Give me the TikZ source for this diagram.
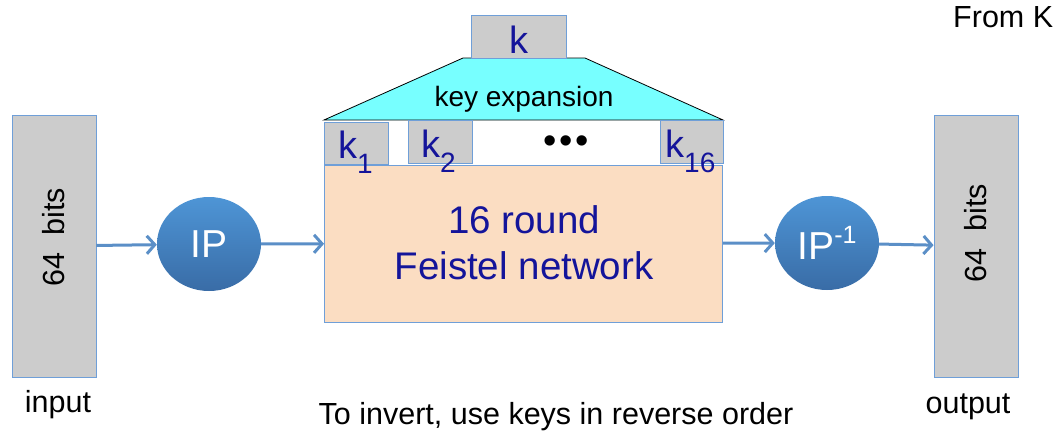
\documentclass[tikz,border=0pt]{standalone}
\usepackage{fontspec}
\setmainfont{Liberation Sans}
\usetikzlibrary{arrows.meta,shapes.geometric}
\definecolor{bx}{HTML}{CCCCCC}
\definecolor{bd}{HTML}{6F9FD8}
\definecolor{peach}{HTML}{FBDDC2}
\definecolor{cy}{HTML}{77FFFF}
\definecolor{arr}{HTML}{5B8FC7}
\definecolor{dblue}{HTML}{14149A}
\definecolor{etop}{HTML}{4E95D6}
\definecolor{ebot}{HTML}{396CA6}
\newcommand{\fs}[1]{\fontsize{#1}{1.2\dimexpr #1pt\relax}\selectfont}
\tikzset{
  graybox/.style={draw=bd, fill=bx, line width=0.9pt},
  ipnode/.style={ellipse, top color=etop, bottom color=ebot, draw=none, minimum width=104pt, minimum height=94pt, inner sep=0pt, text=white, font=\fs{39}},
  conn/.style={draw=arr, line width=3pt, -{Straight Barb[length=8pt,width=18pt]}},
  lbl/.style={font=\fs{30.5}, inner sep=0pt},
  keytxt/.style={text=dblue, font=\fs{38}, inner sep=0pt}
}
\begin{document}
\begin{tikzpicture}[x=1pt,y=-1pt]
\useasboundingbox (0,0) rectangle (1054,434);
% input / output boxes
\node[graybox, minimum width=84pt, minimum height=262pt, inner sep=0pt] (in) at (54,246) {};
\node[graybox, minimum width=84pt, minimum height=262pt, inner sep=0pt] (out) at (976,246) {};
\node[lbl, rotate=90] (intxt) at (54,237) {64\ \ bits};
\node[lbl, rotate=90] (outtxt) at (976,233) {64\ \ bits};
% permutations
\node[ipnode] (ip) at (209,244) {IP};
\node[ipnode] (ipi) at (827,243) {IP\raisebox{0.4em}{\fs{25}-1}};
% feistel
\node[draw=bd, fill=peach, line width=0.9pt, minimum width=398pt, minimum height=157pt, inner sep=0pt] (fe) at (523.5,243.5) {};
\node[text=dblue, font=\fs{38.5}, align=center, inner sep=0pt] (fetxt) at (524,243) {16 round\\Feistel network};
% key band
\fill[white] (324,120) rectangle (723,165);
\draw[black, fill=cy, line width=0.8pt] (324,120) -- (463,58) -- (585,58) -- (723,120) -- cycle;
\node[font=\fs{28}, inner sep=0pt] (kexp) at (524,99) {key expansion};
\node[graybox, minimum width=95pt, minimum height=43pt, inner sep=0pt] (k) at (518.5,36.5) {};
\node[keytxt, anchor=base] (ktxt) at (518.5,53) {k};
\node[graybox, minimum width=64pt, minimum height=42pt, inner sep=0pt] (k1) at (356,143) {};
\node[graybox, minimum width=64pt, minimum height=43pt, inner sep=0pt] (k2) at (440,141.5) {};
\node[graybox, minimum width=63pt, minimum height=43pt, inner sep=0pt] (k16) at (691.5,141.5) {};
\node[keytxt, anchor=base west] (k1t) at (338,158) {k\raisebox{-0.4em}{\fs{28}1}};
\node[keytxt, anchor=base west] (k2t) at (421,157) {k\raisebox{-0.4em}{\fs{28}2}};
\node[keytxt, anchor=base west] (k16t) at (665,157) {k\raisebox{-0.4em}{\fs{28}16}};
\node[font=\fs{38}, inner sep=0pt] (dots) at (566,145) {\textbullet\hspace{3pt}\textbullet\hspace{3pt}\textbullet};
% connectors
\draw[conn] (in) -- (ip);
\draw[conn] (ip) -- (fe);
\draw[conn] (fe) -- (ipi);
\draw[conn] (ipi) -- (out);
% labels
\node[lbl] (inl) at (58,405) {input};
\node[lbl] (outl) at (968,407) {output};
\node[lbl] (note) at (556,417) {To invert, use keys in reverse order};
\node[lbl, anchor=base west] (from) at (953,27) {From K};
\end{tikzpicture}
\end{document}
